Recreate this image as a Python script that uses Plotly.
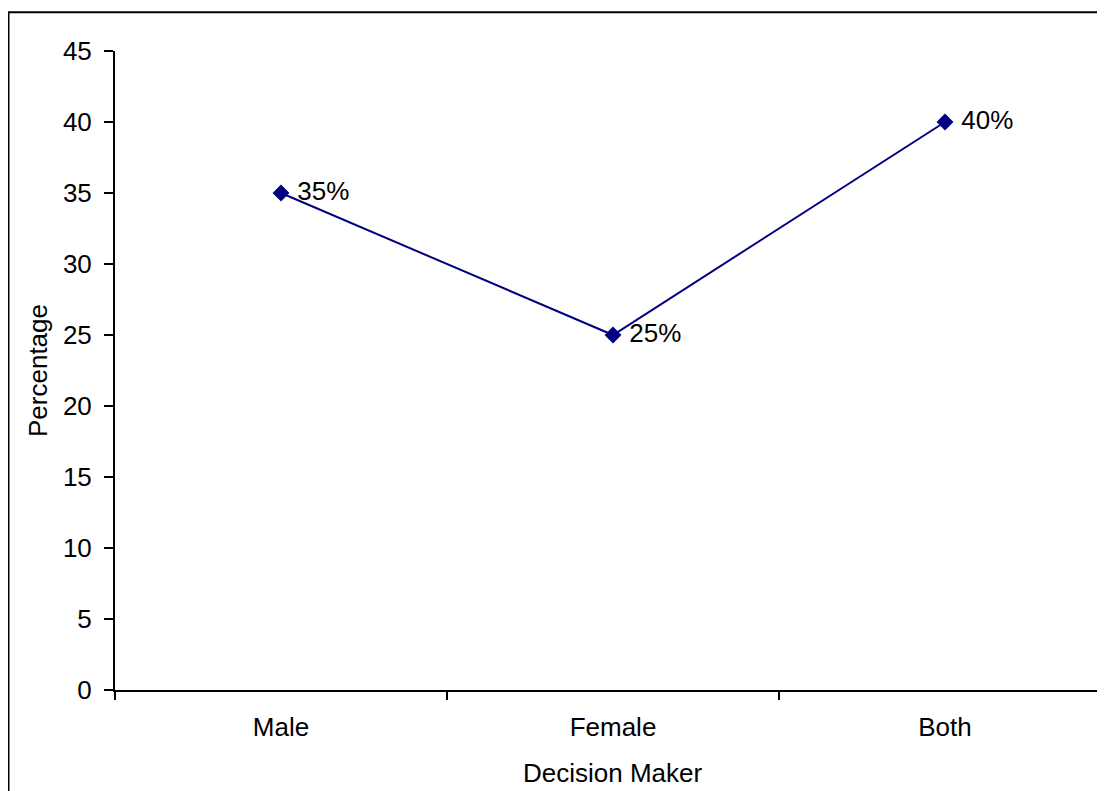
import plotly.graph_objects as go

categories = ["Male", "Female", "Both"]
values = [35, 25, 40]
labels = ["35%", "25%", "40%"]
x_title = "Decision Maker"
y_title = "Percentage"

FONT = "Liberation Sans, Arial, sans-serif"
FS = 26

fig = go.Figure()
fig.add_trace(go.Scatter(
    x=categories, y=values,
    mode="lines+markers+text",
    text=labels, texttemplate=" %{text}", textposition="middle right",
    textfont=dict(family=FONT, size=FS, color="black"),
    line=dict(color="#000080", width=2),
    marker=dict(symbol="diamond", size=13, color="#000080"),
    cliponaxis=False,
    showlegend=False,
))

fig.update_layout(
    width=1089, height=783,
    margin=dict(l=107, r=0, t=43, b=101),
    paper_bgcolor="white", plot_bgcolor="white",
    font=dict(family=FONT, size=FS, color="black"),
    xaxis=dict(
        type="category", range=[-0.5, -0.5 + 982 / 332],
        tickson="boundaries", ticks="outside", ticklen=8, tickwidth=2, tickcolor="black",
        showline=True, linecolor="black", linewidth=2, showgrid=False, zeroline=False,
        tickfont=dict(size=FS), ticklabelstandoff=13, automargin=False,
    ),
    yaxis=dict(
        range=[0, 45], dtick=5, ticks="outside", ticklen=9, tickwidth=2, tickcolor="black",
        showline=True, linecolor="black", linewidth=2, showgrid=False, zeroline=False,
        tickfont=dict(size=FS), ticklabelstandoff=7, automargin=False,
        title=dict(text=y_title, font=dict(size=FS), standoff=8),
    ),
    annotations=[dict(
        text=x_title, xref="paper", yref="paper",
        x=(613 - 115) / 982, y=(690 - 773) / 639,
        xanchor="center", yanchor="middle", showarrow=False,
        font=dict(family=FONT, size=FS, color="black"),
    )],
    shapes=[dict(
        type="rect", xref="paper", yref="paper",
        x0=(8.5 - 115) / 982, x1=1.05,
        y0=-0.3, y1=(690 - 12.3) / 639,
        line=dict(color="black", width=2), fillcolor="rgba(0,0,0,0)", layer="below",
    )],
)

fig.write_html("out.html")
